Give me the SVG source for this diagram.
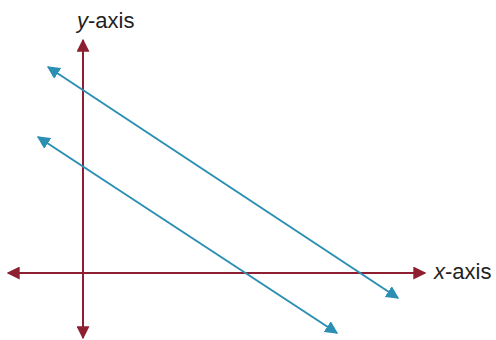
<svg xmlns="http://www.w3.org/2000/svg" width="496" height="340" viewBox="0 0 496 340">
<style>
.axis{stroke:#8e1f30;stroke-width:2;fill:none}
.line{stroke:#2b8fb3;stroke-width:2;fill:none}
.lbl{font-family:"Liberation Sans",Arial,sans-serif;font-size:22px;fill:#222}
</style>
<defs>
<marker id="ar" viewBox="0 0 10 10" refX="9" refY="5" markerWidth="6.5" markerHeight="6.5" orient="auto-start-reverse" markerUnits="strokeWidth">
<path d="M0,0 L10,5 L0,10 Z" fill="#8e1f30"/>
</marker>
<marker id="ab" viewBox="0 0 10 10" refX="9" refY="5" markerWidth="6.5" markerHeight="6.5" orient="auto-start-reverse" markerUnits="strokeWidth">
<path d="M0,0 L10,5 L0,10 Z" fill="#2b8fb3"/>
</marker>
</defs>
<rect width="496" height="340" fill="#fff"/>
<g id="connectors">
<line class="axis" x1="83" y1="40" x2="83" y2="338" marker-start="url(#ar)" marker-end="url(#ar)"/>
<line class="axis" x1="8" y1="273" x2="425" y2="273" marker-start="url(#ar)" marker-end="url(#ar)"/>
<line class="line" x1="48" y1="67" x2="398" y2="298" marker-start="url(#ab)" marker-end="url(#ab)"/>
<line class="line" x1="38" y1="137" x2="337" y2="333" marker-start="url(#ab)" marker-end="url(#ab)"/>
</g>
<g id="y-label"><text class="lbl" x="77" y="28"><tspan font-style="italic">y</tspan>-axis</text></g>
<g id="x-label"><text class="lbl" x="434" y="279"><tspan font-style="italic">x</tspan>-axis</text></g>
</svg>
